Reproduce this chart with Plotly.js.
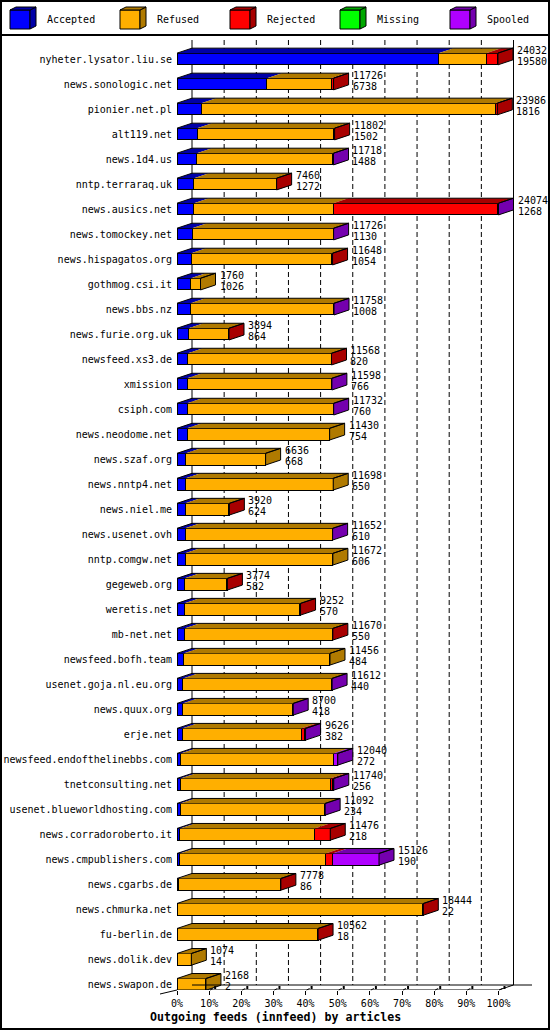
<!DOCTYPE html>
<html><head><meta charset="utf-8">
<script src="https://cdn.plot.ly/plotly-3.0.1.min.js"></script>
<style>html,body{margin:0;padding:0;background:#fff}</style>
</head><body><div id="chart" style="width:550px;height:1030px"></div>
<script>
const hosts = ['nyheter.lysator.liu.se','news.sonologic.net','pionier.net.pl','alt119.net','news.1d4.us','nntp.terraraq.uk','news.ausics.net','news.tomockey.net','news.hispagatos.org','gothmog.csi.it','news.bbs.nz','news.furie.org.uk','newsfeed.xs3.de','xmission','csiph.com','news.neodome.net','news.szaf.org','news.nntp4.net','news.niel.me','news.usenet.ovh','nntp.comgw.net','gegeweb.org','weretis.net','mb-net.net','newsfeed.bofh.team','usenet.goja.nl.eu.org','news.quux.org','erje.net','newsfeed.endofthelinebbs.com','tnetconsulting.net','usenet.blueworldhosting.com','news.corradoroberto.it','news.cmpublishers.com','news.cgarbs.de','news.chmurka.net','fu-berlin.de','news.dolik.dev','news.swapon.de'];
const offered  = [24032,11726,23986,11802,11718,7460,24074,11726,11648,1760,11758,3894,11568,11598,11732,11430,6636,11698,3920,11652,11672,3774,9252,11670,11456,11612,8700,9626,12040,11740,11092,11476,15126,7778,18444,10562,1074,2168];
const accepted = [19580,6738,1816,1502,1488,1272,1268,1130,1054,1026,1008,864,820,766,760,754,668,650,624,610,606,582,570,550,484,440,418,382,272,256,234,218,190,86,22,18,14,2];
const refused  = [3565,4808,22020,10250,10190,6148,10430,10556,10544,734,10710,2990,10718,10792,10922,10676,5968,11048,3266,11002,11066,3152,8622,11060,10972,11147,8252,8914,11418,11204,10828,10088,10936,7672,18362,10519,1060,2166];
const rejected = [887,180,150,50,0,40,12336,0,50,0,0,40,30,0,0,0,0,0,30,0,0,40,60,60,0,0,0,270,0,220,0,1170,525,20,60,25,0,0];
const missing  = [0,0,0,0,0,0,0,0,0,0,0,0,0,0,0,0,0,0,0,0,0,0,0,0,0,0,0,0,0,0,0,0,0,0,0,0,0,0];
const spooled  = [0,0,0,0,40,0,40,40,0,0,40,0,0,40,50,0,0,0,0,40,0,0,0,0,0,25,30,60,350,60,30,0,3475,0,0,0,0,0];
const seriesNames = ['Accepted','Refused','Rejected','Missing','Spooled'];
const tickLabels = ['0%','10%','20%','30%','40%','50%','60%','70%','80%','90%','100%'];
const xTitle = 'Outgoing feeds (innfeed) by articles';

const frontColors = ['#0000FF','#FFAF00','#FF0000','#00FF00','#B000FF'];
const darkColors  = ['#0000A8','#B07A00','#A80000','#00A800','#7400AE'];
const FONT = 'DejaVu Sans Mono, Liberation Mono, monospace';

const series = [accepted, refused, rejected, missing, spooled];
const L=177, R=532, T=37, B=990;
const ROW0=59, ROWH=25.01;
const FULL=321.5;
const MAXV = Math.max(...offered);
const K = FULL/MAXV;
const DX = 15/K, DY = 5/ROWH, BW = 11.7/ROWH;
const yTop = (T-ROW0)/ROWH, yBot = (B-ROW0)/ROWH;
const xd = px => (px-L)/K;
const yd = py => (py-ROW0)/ROWH;
const xp = px => (px-L)/(R-L);
const yp = py => (B-py)/(B-T);
const idx = hosts.map((h,i)=>i);

const traces = [];
// front faces
series.forEach((vals,s)=>{
  traces.push({type:'bar',orientation:'h',name:seriesNames[s],y:idx,
    x:vals.map(v=>v>0?v:null),width:BW,
    marker:{color:frontColors[s],line:{color:'#000',width:1}},
    hoverinfo:'skip',showlegend:false});
});
// top faces
const cum = hosts.map(()=>0);
const lastSeg = hosts.map(()=>-1);
series.forEach((vals,s)=>{
  const xs=[],ys=[];
  vals.forEach((v,i)=>{
    if(v>0){
      const x0=cum[i],x1=cum[i]+v,yt=i-BW/2;
      xs.push(x0,x1,x1+DX,x0+DX,x0,null);
      ys.push(yt,yt,yt-DY,yt-DY,yt,null);
      cum[i]=x1; lastSeg[i]=s;
    }
  });
  traces.push({type:'scatter',mode:'lines',x:xs,y:ys,fill:'toself',fillcolor:darkColors[s],
    line:{width:0,color:darkColors[s]},hoverinfo:'skip',showlegend:false});
});
// side faces
series.forEach((vals,s)=>{
  const xs=[],ys=[];
  hosts.forEach((h,i)=>{
    if(lastSeg[i]===s){
      const X=cum[i],yt=i-BW/2,yb=i+BW/2;
      xs.push(X,X+DX,X+DX,X,X,null);
      ys.push(yt,yt-DY,yb-DY,yb,yt,null);
    }
  });
  traces.push({type:'scatter',mode:'lines',x:xs,y:ys,fill:'toself',fillcolor:darkColors[s],
    line:{width:1,color:'#000'},hoverinfo:'skip',showlegend:false});
});
// outlines of top faces
{
  const xs=[],ys=[];
  hosts.forEach((h,i)=>{
    const X=cum[i],yt=i-BW/2;
    xs.push(0,DX,X+DX,null,X,X+DX,null);
    ys.push(yt,yt-DY,yt-DY,null,yt,yt-DY,null);
  });
  traces.push({type:'scatter',mode:'lines',x:xs,y:ys,line:{width:1,color:'#000'},hoverinfo:'skip',showlegend:false});
}

const shapes = [];
// back wall lines
[0,10].forEach(k=>{
  const x=MAXV*k/10+DX;
  shapes.push({type:'line',xref:'x',yref:'y',x0:x,x1:x,y0:yd(40),y1:yd(985),line:{color:'#000',width:1},layer:'below'});
});
for(let k=1;k<10;k++){
  const x=MAXV*k/10+DX;
  shapes.push({type:'line',xref:'x',yref:'y',x0:x,x1:x,y0:yd(40),y1:yd(985),line:{color:'#000',width:1,dash:'5px,3px'},layer:'below'});
}
// floor
shapes.push({type:'line',xref:'x',yref:'y',x0:DX,x1:xd(R),y0:yd(985),y1:yd(985),line:{color:'#000',width:1}});
shapes.push({type:'line',xref:'x',yref:'y',x0:0,x1:MAXV,y0:yd(990),y1:yd(990),line:{color:'#000',width:1}});
shapes.push({type:'line',xref:'x',yref:'y',x0:MAXV,x1:MAXV+DX,y0:yd(990),y1:yd(985),line:{color:'#000',width:1}});
shapes.push({type:'line',xref:'paper',yref:'paper',x0:xp(160),x1:xp(177),y0:yp(994),y1:yp(990),line:{color:'#000',width:1}});
// little 3D tick marks
for(let k=1;k<=10;k++){
  const px=L+FULL*k/10;
  shapes.push({type:'line',xref:'paper',yref:'paper',x0:xp(px+1),x1:xp(px+4),y0:yp(990),y1:yp(988.5),line:{color:'#000',width:1}});
  shapes.push({type:'rect',xref:'paper',yref:'paper',x0:xp(px+5),x1:xp(px+7),y0:yp(989),y1:yp(986),fillcolor:'#000',line:{width:0}});
}
// outer border + legend separator
shapes.push({type:'rect',xref:'paper',yref:'paper',x0:xp(1),x1:xp(549),y0:yp(1),y1:yp(1029),line:{color:'#000',width:2}});
shapes.push({type:'line',xref:'paper',yref:'paper',x0:xp(0),x1:xp(550),y0:yp(35),y1:yp(35),line:{color:'#000',width:2}});

const annotations = [];
// legend cubes
seriesNames.forEach((n,s)=>{
  const cx=10+110*s;
  const P=(pts)=>'M'+pts.map(p=>xp(p[0])+','+yp(p[1])).join(' L')+' Z';
  shapes.push({type:'path',xref:'paper',yref:'paper',path:P([[cx,10],[cx+20,10],[cx+20,29],[cx,29]]),fillcolor:frontColors[s],line:{color:'#000',width:1}});
  shapes.push({type:'path',xref:'paper',yref:'paper',path:P([[cx+20,10],[cx+26,7],[cx+26,26],[cx+20,29]]),fillcolor:darkColors[s],line:{color:'#000',width:1}});
  shapes.push({type:'path',xref:'paper',yref:'paper',path:P([[cx,10],[cx+6,7],[cx+26,7],[cx+20,10]]),fillcolor:darkColors[s],line:{color:'#000',width:1}});
  annotations.push({xref:'paper',yref:'paper',x:xp(cx+35),y:yp(20),xanchor:'left',yanchor:'middle',text:n,showarrow:false,font:{family:FONT,size:10,color:'#000'}});
});
// value labels
hosts.forEach((h,i)=>{
  annotations.push({xref:'x',yref:'y',x:offered[i]+DX,y:i,xanchor:'left',yanchor:'middle',xshift:2,yshift:9,text:String(offered[i]),showarrow:false,font:{family:FONT,size:10,color:'#000'}});
  annotations.push({xref:'x',yref:'y',x:offered[i]+DX,y:i,xanchor:'left',yanchor:'middle',xshift:2,yshift:-2,text:String(accepted[i]),showarrow:false,font:{family:FONT,size:10,color:'#000'}});
});
annotations.push({xref:'paper',yref:'paper',x:xp(275),y:yp(1017),xanchor:'center',yanchor:'middle',text:'<b>'+xTitle+'</b>',showarrow:false,font:{family:FONT,size:11.6,color:'#000'}});

const layout = {
  width:550,height:1030,autosize:false,
  margin:{l:L,r:550-R,t:T,b:1030-B,pad:0},
  paper_bgcolor:'#fff',plot_bgcolor:'rgba(0,0,0,0)',
  barmode:'stack',showlegend:false,
  xaxis:{range:[0,xd(R)],tickvals:tickLabels.map((t,k)=>MAXV*k/10),ticktext:tickLabels,
    ticks:'outside',ticklen:4,tickcolor:'#000',tickwidth:1,showgrid:false,zeroline:false,showline:false,
    tickfont:{family:FONT,size:10,color:'#000'},fixedrange:true},
  yaxis:{range:[yBot,yTop],tickvals:idx,ticktext:hosts,ticks:'',ticklabelstandoff:4,
    showgrid:false,zeroline:false,showline:false,tickfont:{family:FONT,size:10,color:'#000'},fixedrange:true},
  shapes:shapes,annotations:annotations
};
Plotly.newPlot('chart',traces,layout,{displayModeBar:false,staticPlot:true});
</script></body></html>
